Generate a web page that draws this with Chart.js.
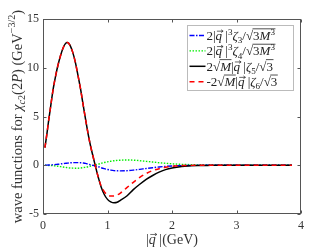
<!DOCTYPE html>
<html><head><meta charset="utf-8">
<script src="https://cdn.jsdelivr.net/npm/chart.js@4.4.1/dist/chart.umd.min.js"></script>
<style>html,body{margin:0;padding:0;background:#fff}</style>
</head><body>
<canvas id="c" width="332" height="249"></canvas>
<script>
// ---- data ----
const xs = [0.03,0.06,0.09,0.12,0.16,0.2,0.23,0.27,0.31,0.35,0.38,0.42,0.46,0.5,0.54,0.58,0.62,0.66,0.7,0.74,0.78,0.82,0.86,0.9,0.95,1.0,1.05,1.1,1.15,1.2,1.3,1.4,1.5,1.6,1.7,1.8,1.9,2.0,2.1,2.2,2.4,2.6,2.8,3.0,3.3,3.6,3.86];
const zeta3 = [0,0.01,0.02,0.03,0.05,0.08,0.1,0.13,0.17,0.2,0.22,0.25,0.26,0.27,0.27,0.26,0.23,0.19,0.12,0.05,-0.02,-0.08,-0.15,-0.25,-0.35,-0.43,-0.5,-0.55,-0.57,-0.58,-0.56,-0.5,-0.42,-0.33,-0.25,-0.18,-0.12,-0.08,-0.05,-0.03,-0.01,0,0,0,0,0,0];
const zeta4 = [0,-0.01,-0.02,-0.03,-0.05,-0.08,-0.1,-0.14,-0.18,-0.22,-0.25,-0.28,-0.29,-0.3,-0.3,-0.28,-0.25,-0.2,-0.15,-0.08,-0.01,0.05,0.12,0.2,0.28,0.35,0.41,0.46,0.5,0.52,0.54,0.52,0.47,0.4,0.33,0.26,0.2,0.15,0.11,0.08,0.04,0.02,0.01,0,0,0,0];
const zeta5 = [1.8,3.2,4.7,6.1,7.9,9.3,10.2,11.2,12.0,12.5,12.6,12.3,11.6,10.6,9.3,7.9,6.3,4.7,3.2,1.9,0.8,-0.3,-1.3,-2.2,-3.0,-3.5,-3.75,-3.85,-3.8,-3.6,-3.15,-2.5,-1.95,-1.45,-1.05,-0.7,-0.45,-0.28,-0.17,-0.1,-0.03,-0.01,0,0,0,0,0];
const zeta6 = [1.8,3.2,4.7,6.1,7.9,9.3,10.2,11.2,12.0,12.5,12.6,12.3,11.6,10.6,9.3,7.9,6.3,4.7,3.2,1.9,0.8,-0.3,-1.3,-2.1,-2.7,-3.05,-3.15,-3.15,-3.05,-2.85,-2.3,-1.75,-1.25,-0.85,-0.55,-0.35,-0.2,-0.1,-0.05,-0.03,0,0,0,0,0,0,0];
const seriesNames = ['2|q|^3 ζ3/√(3M^3)','2|q|^3 ζ4/√(3M^3)','2√M|q|ζ5/√3','-2√M|q|ζ6/√3'];
const xTicks = [0,1,2,3,4];
const yTicks = [-5,0,5,10,15];

const F = '"Liberation Serif","Times New Roman",serif';
const pts = arr => xs.map((x,i)=>({x:x,y:arr[i]}));

function setFont(ctx,size,it){ctx.font=(it?'italic ':'')+size+'px '+F;}
function richWidth(ctx,parts,base){let w=0;for(const p of parts){setFont(ctx,base*(p.s||1),p.i);w+=ctx.measureText(p.t).width;}return w;}
function drawRich(ctx,parts,x,y,base){
  let cx=x,ovS=null,ovE=null;
  ctx.textBaseline='alphabetic';ctx.textAlign='left';
  const flush=()=>{if(ovS!==null){ctx.lineWidth=0.8;ctx.beginPath();ctx.moveTo(ovS-0.5,y-0.86*base);ctx.lineTo(ovE+0.5,y-0.86*base);ctx.stroke();ovS=null;}};
  for(const p of parts){
    const size=base*(p.s||1);setFont(ctx,size,p.i);
    const w=ctx.measureText(p.t).width;
    ctx.fillText(p.t,cx,y+(p.dy||0)*base);
    if(p.vec){const a=cx+w*0.2,b=cx+w+1,yy=y-0.68*base;ctx.lineWidth=0.7;ctx.beginPath();ctx.moveTo(a,yy);ctx.lineTo(b,yy);ctx.moveTo(b-2,yy-1.4);ctx.lineTo(b,yy);ctx.lineTo(b-2,yy+1.4);ctx.stroke();}
    if(p.ov){if(ovS===null)ovS=cx;ovE=cx+w;}else flush();
    cx+=w;
  }
  flush();
  return cx-x;
}
const SUP={s:0.7,dy:-0.42}, SUB={s:0.7,dy:0.25};
const q=[{t:'q',i:1,vec:1},{t:' |'}];
const legendRich=[
  [{t:'2|'},...q,{t:'3',...SUP},{t:'ζ',i:1},{t:'3',...SUB},{t:'/'},{t:'√'},{t:'3',ov:1},{t:'M',i:1,ov:1},{t:'3',...SUP,ov:1}],
  [{t:'2|'},...q,{t:'3',...SUP},{t:'ζ',i:1},{t:'4',...SUB},{t:'/'},{t:'√'},{t:'3',ov:1},{t:'M',i:1,ov:1},{t:'3',...SUP,ov:1}],
  [{t:'2'},{t:'√'},{t:'M',i:1,ov:1},{t:'|'},...q,{t:'ζ',i:1},{t:'5',...SUB},{t:'/'},{t:'√'},{t:'3',ov:1}],
  [{t:'-2'},{t:'√'},{t:'M',i:1,ov:1},{t:'|'},...q,{t:'ζ',i:1},{t:'6',...SUB},{t:'/'},{t:'√'},{t:'3',ov:1}]
];
const legendStyle=[
  {c:'#0000ff',d:[5,1.5,1.5,1.5],w:1.4},
  {c:'#00ee00',d:[1.5,1.5],w:1.4},
  {c:'#000000',d:[],w:1.5},
  {c:'#ff0000',d:[5,4],w:1.5}
];
const yTitle=[{t:'wave functions for '},{t:'χ',i:1},{t:'c',i:1,...SUB},{t:'2',...SUB},{t:'(2'},{t:'P',i:1},{t:') (GeV'},{t:'−3/2',...SUP},{t:')'}];
const xTitle=[{t:'|'},{t:'q',i:1,vec:1},{t:' |(GeV)'}];

const deco={id:'deco',afterDraw(chart){
  const ctx=chart.ctx,a=chart.chartArea,xs_=chart.scales.x,ys_=chart.scales.y;
  ctx.save();
  ctx.strokeStyle='#555';ctx.lineWidth=1;
  const L=Math.round(a.left)+0.5,R=Math.round(a.right)-0.5,T=Math.round(a.top)+0.5,B=Math.round(a.bottom)-0.5;
  ctx.strokeRect(L,T,R-L,B-T);
  ctx.beginPath();
  for(const v of xTicks){const px=Math.round(xs_.getPixelForValue(v))+0.5;ctx.moveTo(px,B);ctx.lineTo(px,B-3);ctx.moveTo(px,T);ctx.lineTo(px,T+3);}
  for(const v of yTicks){const py=Math.round(ys_.getPixelForValue(v))+0.5;ctx.moveTo(L,py);ctx.lineTo(L+3,py);ctx.moveTo(R,py);ctx.lineTo(R-3,py);}
  ctx.stroke();
  // legend
  const lx=187.5,ly=25.5,lw=106,lh=65;
  ctx.fillStyle='#fff';ctx.fillRect(lx,ly,lw,lh);
  ctx.strokeStyle='#bbb';ctx.lineWidth=1;ctx.strokeRect(lx,ly,lw,lh);
  for(let i=0;i<4;i++){
    const cy=35.5+i*15.4,st=legendStyle[i];
    ctx.strokeStyle=st.c;ctx.lineWidth=st.w;ctx.setLineDash(st.d);
    ctx.beginPath();ctx.moveTo(189.5,cy);ctx.lineTo(205.5,cy);ctx.stroke();ctx.setLineDash([]);
    ctx.fillStyle='#222';ctx.strokeStyle='#222';
    drawRich(ctx,legendRich[i],206.5,cy+4.5,13);
  }
  // titles
  ctx.fillStyle='#333';ctx.strokeStyle='#333';
  const tw=richWidth(ctx,xTitle,14);
  drawRich(ctx,xTitle,(a.left+a.right)/2-tw/2,244,14);
  ctx.save();ctx.translate(21.5,(a.top+a.bottom)/2);ctx.rotate(-Math.PI/2);
  const yw=richWidth(ctx,yTitle,14.5);
  drawRich(ctx,yTitle,-yw/2,0,14.5);
  ctx.restore();
  ctx.restore();
}};

const tickFont={family:F,size:12};
new Chart(document.getElementById('c'),{
  type:'line',
  data:{datasets:[
    {label:seriesNames[3],data:pts(zeta6),borderColor:'#ff0000',borderWidth:1.5,borderDash:[5,4]},
    {label:seriesNames[2],data:pts(zeta5),borderColor:'#000000',borderWidth:1.5},
    {label:seriesNames[0],data:pts(zeta3),borderColor:'#0000ff',borderWidth:1.4,borderDash:[5,1.5,1.5,1.5]},
    {label:seriesNames[1],data:pts(zeta4),borderColor:'#00ee00',borderWidth:1.4,borderDash:[1.5,1.5]}
  ]},
  options:{
    responsive:false,animation:false,devicePixelRatio:1,
    layout:{padding:{left:0,right:31,top:19,bottom:0}},
    elements:{point:{radius:0},line:{cubicInterpolationMode:'monotone',fill:false}},
    plugins:{legend:{display:false},tooltip:{enabled:false}},
    scales:{
      x:{type:'linear',min:0,max:4,afterBuildTicks:s=>{s.ticks=xTicks.map(v=>({value:v}));},
         ticks:{font:tickFont,color:'#333',padding:5,maxRotation:0},grid:{display:false,drawTicks:false},border:{display:false},
         afterFit:s=>{s.height=35;}},
      y:{type:'linear',min:-5,max:15,afterBuildTicks:s=>{s.ticks=yTicks.map(v=>({value:v}));},
         ticks:{font:tickFont,color:'#333',padding:4},grid:{display:false,drawTicks:false},border:{display:false},
         afterFit:s=>{s.width=43;}}
    }
  },
  plugins:[deco]
});
</script>
</body></html>
